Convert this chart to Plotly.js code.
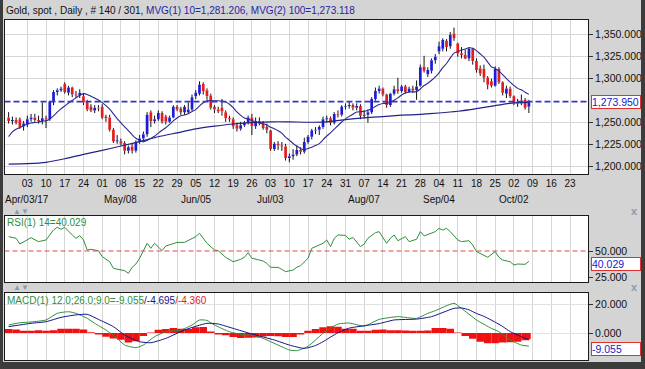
<!DOCTYPE html>
<html><head><meta charset="utf-8">
<script src="https://cdn.plot.ly/plotly-3.0.1.min.js"></script>
<style>html,body{margin:0;padding:0;background:#d4d4d4;}#chart{width:645px;height:369px;}</style>
</head><body><div id="chart"></div>
<script>
// Daily OHLC, trading days 27 Mar 2017 .. 06 Oct 2017 (index 0..139)
const open  = [1256,1252,1253,1254,1246,1248,1254,1256,1253,1252,1255,1254,1274,1285,1287,1294,1284,1290,1282,1281,
1280,1274,1268,1264,1267,1268,1257,1256,1242,1229,1229,1227,1218,1223,1218,1228,1232,1237,1262,1252,
1254,1261,1257,1251,1256,1268,1266,1262,1262,1265,1280,1283,1294,1287,1281,1268,1265,1267,1262,1255,
1254,1247,1243,1247,1250,1256,1246,1252,1249,1245,1241,1220,1226,1224,1223,1210,1212,1214,1219,1217,
1228,1234,1241,1242,1245,1254,1255,1250,1260,1259,1268,1269,1270,1267,1269,1258,1259,1262,1277,1286,
1289,1282,1270,1283,1288,1286,1291,1285,1289,1287,1292,1314,1305,1309,1321,1331,1334,1343,1337,1351,
1340,1329,1327,1323,1334,1320,1312,1311,1301,1297,1292,1311,1296,1283,1289,1280,1274,1272,1276,1268];
const high  = [1262,1257,1256,1256,1252,1258,1260,1260,1258,1273,1258,1275,1287,1289,1291,1296,1292,1291,1286,1288,
1283,1276,1271,1270,1270,1271,1259,1259,1244,1236,1232,1229,1224,1226,1230,1236,1240,1262,1264,1258,
1264,1263,1259,1258,1270,1270,1268,1270,1273,1282,1287,1297,1296,1289,1283,1270,1268,1277,1264,1258,
1256,1250,1251,1252,1258,1260,1256,1256,1252,1249,1242,1228,1229,1228,1226,1215,1220,1224,1222,1233,
1236,1243,1245,1247,1257,1258,1257,1262,1264,1270,1272,1274,1272,1272,1271,1264,1265,1279,1290,1292,
1290,1283,1284,1292,1301,1293,1293,1291,1292,1298,1316,1326,1313,1323,1328,1342,1346,1345,1353,1358,
1341,1336,1333,1336,1335,1323,1315,1316,1303,1300,1314,1313,1297,1292,1291,1281,1277,1282,1278,1276];
const low   = [1249,1248,1248,1243,1241,1245,1251,1251,1249,1248,1244,1252,1270,1281,1285,1283,1281,1279,1278,1278,
1270,1263,1262,1261,1263,1254,1251,1240,1227,1226,1224,1214,1215,1215,1216,1226,1229,1234,1245,1249,
1252,1249,1248,1250,1255,1263,1259,1259,1260,1263,1277,1281,1282,1276,1265,1261,1261,1258,1251,1251,
1243,1240,1241,1245,1248,1236,1243,1247,1242,1238,1218,1218,1219,1218,1207,1205,1208,1212,1214,1215,
1226,1231,1237,1236,1243,1250,1247,1248,1256,1257,1265,1266,1264,1264,1254,1255,1250,1260,1275,1283,
1280,1267,1268,1281,1283,1284,1283,1284,1284,1276,1291,1307,1302,1306,1317,1328,1331,1331,1334,1343,
1325,1323,1322,1320,1316,1307,1303,1296,1288,1290,1291,1294,1281,1278,1278,1270,1268,1270,1265,1261];
const close = [1252,1253,1250,1245,1249,1254,1256,1253,1252,1255,1254,1274,1285,1287,1289,1285,1290,1282,1281,1284,
1273,1265,1264,1267,1266,1256,1255,1242,1229,1230,1226,1218,1222,1218,1228,1232,1237,1259,1252,1254,
1261,1251,1251,1256,1268,1265,1262,1268,1265,1279,1284,1293,1286,1280,1267,1265,1263,1263,1255,1254,
1246,1243,1247,1250,1256,1246,1252,1249,1244,1242,1220,1226,1224,1223,1210,1212,1214,1219,1217,1228,
1234,1241,1242,1245,1254,1255,1250,1260,1259,1268,1269,1270,1267,1269,1258,1259,1262,1277,1286,1289,
1282,1270,1283,1288,1286,1291,1285,1289,1287,1291,1313,1309,1310,1321,1325,1337,1344,1336,1350,1346,
1329,1327,1323,1334,1320,1310,1306,1301,1293,1292,1311,1296,1284,1289,1280,1272,1272,1275,1267,1273.95];

// MVG(1) 10-day moving average (daily)
const ma10 = [1234.2,1239.6,1242.6,1244.5,1246.5,1248.5,1249.7,1250.2,1250.7,1251.9,
1252.1,1254.2,1257.7,1261.9,1265.9,1269.0,1272.4,1275.3,1278.2,1281.1,
1283.0,1282.1,1280.0,1278.0,1275.7,1272.8,1269.3,1265.3,1260.1,1254.7,
1250.0,1245.3,1241.1,1236.2,1232.4,1230.0,1228.2,1229.9,1232.2,1234.6,
1238.1,1241.4,1244.3,1248.1,1252.1,1255.4,1257.9,1258.8,1260.1,1262.6,
1264.9,1269.1,1272.6,1275.0,1274.9,1274.9,1275.0,1274.5,1273.5,1271.0,
1267.2,1262.2,1258.3,1255.3,1254.2,1252.3,1251.2,1249.8,1248.7,1247.5,
1244.9,1243.2,1240.9,1238.2,1233.6,1230.2,1226.4,1223.4,1220.7,1219.3,
1220.7,1222.2,1224.0,1226.2,1230.6,1234.9,1238.5,1242.6,1246.8,1250.8,
1254.3,1257.2,1259.7,1262.1,1262.5,1262.9,1264.1,1265.8,1268.5,1270.6,
1271.9,1271.9,1273.5,1275.4,1278.2,1281.4,1283.7,1284.9,1285.0,1285.2,
1288.3,1292.2,1294.9,1298.2,1302.1,1306.7,1312.6,1317.3,1323.6,1329.1,
1330.7,1332.5,1333.8,1335.1,1334.6,1331.9,1328.1,1324.6,1318.9,1313.5,
1311.7,1308.6,1304.7,1300.2,1296.2,1292.4,1289.0,1287.4,1284.6,1282.2];

// MVG(2) 100-day moving average (read weekly)
const ma100Idx = [0,5,10,15,20,25,30,35,40,45,50,55,60,65,70,75,80,85,90,95,100,105,110,115,120,125,130,135,139];
const ma100Val = [1203,1203.5,1205,1209,1214,1218.5,1223.5,1228.5,1234,1238.5,1243,1246,1248.5,1250,1251,1251,1250.5,1251,1253.5,1255.5,1257,1258.5,1259.5,1261,1263,1266,1269.5,1272.5,1273.118];

// RSI(14)
const rsiIdx = [0,2,3,5,6,8,10,11,12,13,14,15,16,17,18,19,20,21,22,24,25,27,28,30,31,32,33,34,35,37,38,39,40,41,42,45,47,49,50,51,52,53,55,56,58,60,62,63,64,65,68,69,70,72,73,74,76,77,78,80,81,82,84,85,86,87,88,90,91,92,94,95,96,98,99,101,102,103,104,106,107,109,110,111,113,114,115,116,117,118,120,121,123,124,125,127,128,130,131,132,134,135,136,138,139];
const rsiVal = [63.8,62.2,56.7,60.6,62.8,59,60.6,65.4,70.2,72.8,70.9,72.8,68.6,65.4,62.2,64.8,60.6,51,51.6,50.3,44.6,39.7,33.3,32.3,31.1,28.5,34.3,37.5,43,57.4,52.6,57.4,54.2,50.3,54.8,58.3,58.3,62.2,63.8,67,62.2,57.4,51,50.3,43.9,39.7,42,44,48.4,43,40.4,38.1,34.3,34.3,32.3,30.1,31.7,34.3,35.9,43,52.6,54.2,57.4,60.6,54.2,62.2,65.4,65,61.3,63,54.2,56.7,62.2,67.6,68.6,57.4,62.2,65.4,59.9,63.8,59,61.3,68.6,64.5,67.6,68.6,71.8,70.2,71.8,68.6,60.6,59,59.9,55.8,49.4,46.2,44,49.4,44,41.3,39.7,36.5,37.5,37.2,40.029];

// MACD(12,26,9)
const macdIdx = [0,3,6,10,13,16,18,21,23,26,29,31,34,36,39,42,46,49,51,53,55,59,63,65,68,72,75,77,80,82,84,86,88,91,95,99,104,109,112,114,119,121,125,129,131,134,137,139];
const macdVal = [5.5,7.1,7.6,9,13.6,14.7,13.6,10.1,6.7,2.1,-3.7,-8.3,-10.1,-8.3,-2.5,0.9,2.1,5.5,9,8.7,5.5,0.9,-1.4,-1.4,-3.7,-8.3,-11.7,-12.2,-9.2,-4.8,-0.2,3.5,6.2,6.9,4.8,9.4,11.3,10.1,13.6,15.4,20.5,17,9,3.2,0.9,-4.8,-8.3,-9.055];
const sigIdx = [0,6,10,14,18,21,24,28,31,35,38,42,47,53,56,60,65,71,75,79,82,84,86,88,91,95,99,103,109,113,119,121,123,125,127,130,132,134,137,139];
const sigVal = [4.4,6.7,7.8,10.8,12.5,12.9,9.4,4.4,-1.4,-6,-6.7,-3.7,2.1,6.7,6.2,3.2,-0.7,-4.8,-8.3,-10.6,-8.6,-6,-2.8,0.2,3.4,5,6.5,9,9.6,11.3,17,17.3,16,13.5,11.5,7.5,4.5,1,-2.5,-4.695];
const histIdx = [0,2,4,6,8,10,12,14,16,18,20,22,24,26,28,30,32,34,36,38,40,42,44,46,48,50,52,54,56,58,60,62,64,66,68,70,72,74,76,78,80,82,84,86,88,90,92,94,96,98,100,102,104,106,108,110,112,114,116,118,120,122,124,126,128,130,132,134,136,138,139];
const histVal = [2.8,2.5,1.5,1.5,2,1.5,2,3,3,3,2.5,0.5,-1,-2.5,-3.8,-4.6,-6.5,-5.7,-2,0.3,2.3,2.8,3.4,3,2.8,4,4.2,1,-1,-1.6,-2.8,-3.5,-3.2,-3,-2.4,-2,-2.3,-2.8,-2.8,-1,1.5,2.8,3.9,4.6,4.4,3,3,1.5,1.5,2.2,2.5,2,2,1.8,1.5,1.5,1.8,3.5,3.5,3,0.3,-2,-4,-6,-7,-7,-6.5,-6.3,-6,-5,-4.36];

// Weekly ticks (Mondays) as trading-day indices
const tickIdx = [5,10,15,20,25,30,35,40,45,50,55,60,65,70,75,80,85,90,95,100,105,110,115,120,125,130,135,140,145,150];
const tickDays = ["03","10","17","24","01","08","15","22","29","05","12","19","26","03","10","17","24","31","07","14","21","28","04","11","18","25","02","09","16","23"];
const monthIdx = [5,30,50,70,95,115,135];
const monthText = ["Apr/03/17","May/08","Jun/05","Jul/03","Aug/07","Sep/04","Oct/02"];

const W = 645, H = 369;
const px = v => v / W, py = v => 1 - v / H;
const idx = close.map((_, i) => i);
const FONT = "Liberation Sans, Arial, sans-serif";
const UP = "#1c1cd8", DOWN = "#e41c1c";

const bodyBase = idx.map(i => Math.min(open[i], close[i]));
const bodyLen = idx.map(i => Math.max(Math.abs(close[i] - open[i]), 0.6));
const bodyCol = idx.map(i => close[i] >= open[i] ? UP : DOWN);
const wx = [], wy = [];
idx.forEach(i => {
  const top = Math.max(open[i], close[i]), bot = Math.min(open[i], close[i]);
  wx.push(i, i, null, i, i, null);
  wy.push(high[i], top, null, bot, low[i], null);
});

const xr = [-1.1, 154.8];
const traces = [
  {type: "bar", x: idx, y: bodyLen, base: bodyBase, width: 0.72, marker: {color: bodyCol, line: {width: 0}}, xaxis: "x", yaxis: "y", hoverinfo: "skip"},
  {type: "scatter", mode: "lines", x: wx, y: wy, line: {color: "#111111", width: 1}, xaxis: "x", yaxis: "y", hoverinfo: "skip", connectgaps: false},
  {type: "scatter", mode: "lines", x: ma100Idx, y: ma100Val, line: {color: "#22228a", width: 1.2, shape: "spline", smoothing: 0.6}, xaxis: "x", yaxis: "y"},
  {type: "scatter", mode: "lines", x: idx, y: ma10, line: {color: "#2a2a90", width: 1.1, shape: "spline", smoothing: 0.5}, xaxis: "x", yaxis: "y"},
  {type: "scatter", mode: "lines", x: rsiIdx, y: rsiVal, line: {color: "#2f8f3a", width: 1}, xaxis: "x2", yaxis: "y2"},
  {type: "bar", x: histIdx, y: histVal, width: histIdx.map((v, k) => k === histIdx.length - 1 ? 1 : 2), marker: {color: "#f01010", line: {width: 0}}, xaxis: "x3", yaxis: "y3"},
  {type: "scatter", mode: "lines", x: macdIdx, y: macdVal, line: {color: "#2f8f3a", width: 1, shape: "spline", smoothing: 0.5}, xaxis: "x3", yaxis: "y3"},
  {type: "scatter", mode: "lines", x: sigIdx, y: sigVal, line: {color: "#14148a", width: 1, shape: "spline", smoothing: 0.5}, xaxis: "x3", yaxis: "y3"}
];

const xBase = {domain: [px(4.5), px(588)], range: xr, tickvals: tickIdx, showgrid: true, gridcolor: "#d6d6d6", gridwidth: 1,
  showline: true, mirror: true, linecolor: "#1a1a1a", linewidth: 1, zeroline: false, ticks: "", fixedrange: true, tickangle: 0};
const yBase = {side: "right", showline: true, mirror: true, linecolor: "#1a1a1a", linewidth: 1, zeroline: false,
  ticks: "outside", ticklen: 4, tickcolor: "#333", tickfont: {family: FONT, size: 10.5, color: "#111"}, fixedrange: true};

const lastClose = close[close.length - 1];
const fmtPrice = v => v.toLocaleString("en-US", {minimumFractionDigits: 3, maximumFractionDigits: 3});

const valueBox = (yref, y, text) => ({xref: "paper", yref: yref, x: px(591), y: y, xanchor: "left", yanchor: "middle", showarrow: false,
  width: 48, height: 12, align: "left", bgcolor: "#ffffff", bordercolor: "#e03030", borderwidth: 1, borderpad: 0,
  font: {family: FONT, size: 10.5, color: "#2020c8"}, text: text});

const annotations = [
  {xref: "paper", yref: "paper", x: px(4), y: py(10), xanchor: "left", yanchor: "middle", showarrow: false,
   font: {family: FONT, size: 10, color: "#111"},
   text: 'Gold, spot , Daily , # 140 / 301, <span style="color:#2424a4">MVG(1) 10=1,281.206, MVG(2) 100=1,273.118</span>'},
  {xref: "paper", yref: "paper", x: px(5), y: py(223), xanchor: "left", yanchor: "middle", showarrow: false,
   font: {family: FONT, size: 10, color: "#2f8f3a"}, text: "RSI(1) 14=" + rsiVal[rsiVal.length - 1].toFixed(3)},
  {xref: "paper", yref: "paper", x: px(5), y: py(300), xanchor: "left", yanchor: "middle", showarrow: false,
   font: {family: FONT, size: 10, color: "#2f8f3a"},
   text: 'MACD(1) 12.0;26.0;9.0=' + macdVal[macdVal.length - 1].toFixed(3) + '<span style="color:#14148a">/' + sigVal[sigVal.length - 1].toFixed(3) + '</span><span style="color:#e41c1c">/' + histVal[histVal.length - 1].toFixed(3) + '</span>'},
  Object.assign(valueBox("y", lastClose, fmtPrice(lastClose)), {}),
  Object.assign(valueBox("y2", rsiVal[rsiVal.length - 1], rsiVal[rsiVal.length - 1].toFixed(3)), {yshift: -3}),
  Object.assign(valueBox("y3", macdVal[macdVal.length - 1], macdVal[macdVal.length - 1].toFixed(3)), {yshift: -2.5}),
  {xref: "paper", yref: "paper", x: px(11), y: py(211), xanchor: "left", yanchor: "middle", showarrow: false,
   font: {family: FONT, size: 8, color: "#8a9bb0"}, text: "▲▼"},
  {xref: "paper", yref: "paper", x: px(11), y: py(287), xanchor: "left", yanchor: "middle", showarrow: false,
   font: {family: FONT, size: 8, color: "#8a9bb0"}, text: "▲▼"},
  {xref: "paper", yref: "paper", x: px(634), y: py(211), xanchor: "center", yanchor: "middle", showarrow: false,
   font: {family: FONT, size: 11, color: "#8a9bb0"}, text: "<b>x</b>"},
  {xref: "paper", yref: "paper", x: px(634), y: py(287), xanchor: "center", yanchor: "middle", showarrow: false,
   font: {family: FONT, size: 11, color: "#8a9bb0"}, text: "<b>x</b>"}
];
monthIdx.forEach((m, k) => annotations.push({xref: "x", yref: "paper", x: m, y: py(199), xanchor: "center", yanchor: "middle",
  showarrow: false, font: {family: FONT, size: 10, color: "#111"}, text: monthText[k]}));

const layout = {
  width: W, height: H, margin: {l: 0, r: 0, t: 0, b: 0},
  paper_bgcolor: "#d4d4d4", plot_bgcolor: "#ffffff", showlegend: false, barmode: "overlay",
  font: {family: FONT, size: 10, color: "#111"},
  xaxis: Object.assign({}, xBase, {anchor: "y", ticktext: tickDays, showticklabels: true, tickfont: {family: FONT, size: 10, color: "#111"}}),
  xaxis2: Object.assign({}, xBase, {anchor: "y2", matches: "x", showticklabels: false}),
  xaxis3: Object.assign({}, xBase, {anchor: "y3", matches: "x", showticklabels: false}),
  yaxis: Object.assign({}, yBase, {anchor: "x", domain: [py(174), py(20)], range: [1191.7, 1366.7],
    tickvals: [1200, 1225, 1250, 1300, 1325, 1350], tickformat: ",.3f", showgrid: true, gridcolor: "#d6d6d6"}),
  yaxis2: Object.assign({}, yBase, {anchor: "x2", domain: [py(282), py(216)], range: [20.2, 83.65],
    tickvals: [25, 50], tickformat: ".3f", showgrid: false}),
  yaxis3: Object.assign({}, yBase, {anchor: "x3", domain: [py(360), py(293)], range: [-18.6, 27.6],
    tickvals: [0, 20], tickformat: ".3f", showgrid: true, gridcolor: "#e2e2e2"}),
  shapes: [
    {type: "line", xref: "x", yref: "y", x0: xr[0], x1: xr[1], y0: lastClose, y1: lastClose, line: {color: "#3434c8", width: 1.6, dash: "6px,3px"}},
    {type: "line", xref: "x2", yref: "y2", x0: xr[0], x1: xr[1], y0: 50, y1: 50, line: {color: "#e04848", width: 1.2, dash: "5px,3px"}},
    {type: "rect", xref: "paper", yref: "paper", x0: 0, x1: px(3), y0: 0, y1: 1, fillcolor: "#3c3c3c", line: {width: 0}},
    {type: "rect", xref: "paper", yref: "paper", x0: px(641), x1: 1, y0: 0, y1: 1, fillcolor: "#3c3c3c", line: {width: 0}},
    {type: "rect", xref: "paper", yref: "paper", x0: 0, x1: 1, y0: 0, y1: 7 / H, fillcolor: "#3c3c3c", line: {width: 0}}
  ],
  annotations: annotations
};

Plotly.newPlot("chart", traces, layout, {staticPlot: true, displayModeBar: false});
</script>
</body></html>
